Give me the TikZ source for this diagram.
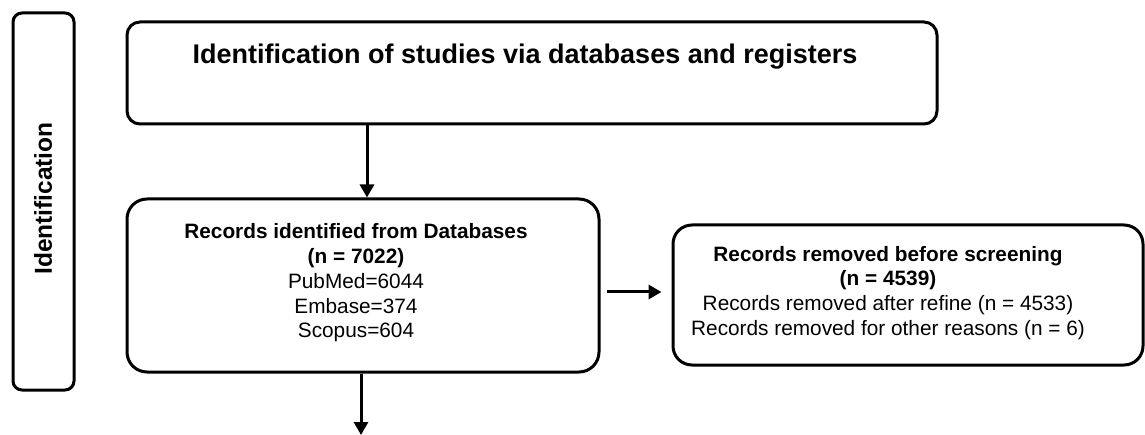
\documentclass[tikz,border=0pt]{standalone}
\usepackage{fontspec}
\setmainfont{Liberation Sans}
\usetikzlibrary{arrows.meta,positioning}
\tikzset{
  box/.style={draw=black, line width=3pt, fill=white, inner sep=0pt},
  txt/.style={align=center, inner sep=0pt, font=\fontsize{20.8}{24.8}\selectfont},
  arr/.style={line width=3pt, -{Triangle[width=14pt,length=13pt]}},
}
\begin{document}
\begin{tikzpicture}[x=1pt,y=-1pt]
\useasboundingbox (0,0) rectangle (1145,435);
% side label
\node[box, rounded corners=9pt, minimum width=61pt, minimum height=377pt] (side) at (43.5,201.5) {};
\node[rotate=90, inner sep=0pt, font=\bfseries\fontsize{24.5}{28}\selectfont] (sidetxt) at (43,198.5) {Identification};
% top box
\node[box, rounded corners=13pt, minimum width=810pt, minimum height=102pt] (top) at (532,73) {};
\node[inner sep=0pt, font=\bfseries\fontsize{27}{32}\selectfont] (toptxt) at (525,57) {Identification of studies via databases and registers};
% records box
\node[box, rounded corners=20pt, minimum width=472pt, minimum height=173pt] (rec) at (363,285.5) {};
\node[txt] (rectxt) at (356,283) {\textbf{Records identified from Databases}\\\textbf{(n = 7022)}\\PubMed=6044\\Embase=374\\Scopus=604};
% removed box
\node[box, rounded corners=19pt, minimum width=470pt, minimum height=140pt] (rem) at (908,295) {};
\node[txt] (remtxt) at (888,293) {\textbf{Records removed before screening}\\\textbf{(n = 4539)}\\Records removed after refine (n = 4533)\\Records removed for other reasons (n = 6)};
% arrows
\coordinate (a1) at (367,0);
\draw[arr] (top.south -| a1) -- (rec.north -| a1);
\coordinate (a2) at (361,435);
\draw[arr] (rec.south -| a2) -- (a2);
\coordinate (a3) at (0,292);
\draw[arr, shorten <=6pt, shorten >=10pt] (rec.east |- a3) -- (rem.west |- a3);
\end{tikzpicture}
\end{document}
